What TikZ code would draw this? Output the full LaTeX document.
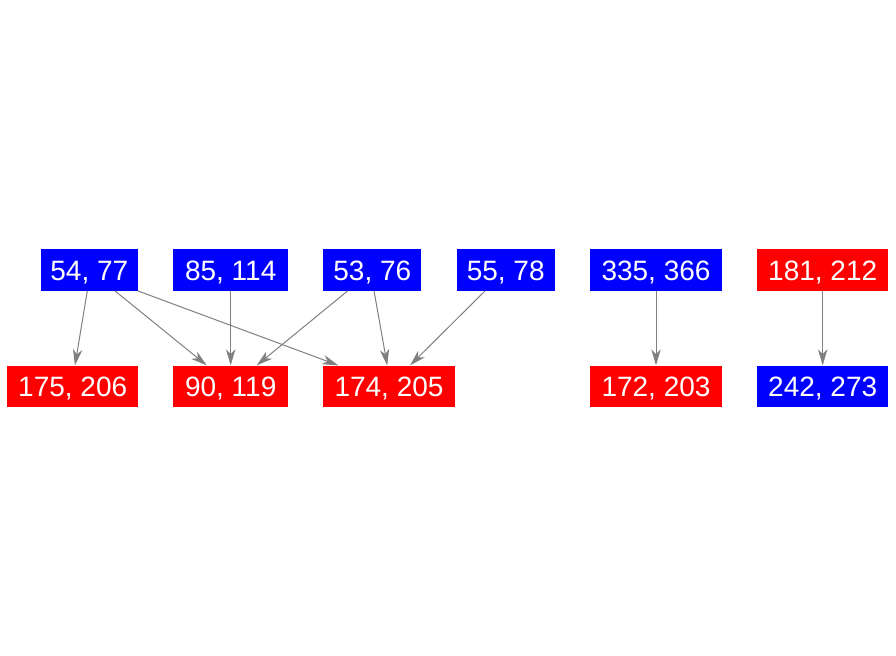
\documentclass[tikz,border=0pt]{standalone}
\usepackage{fontspec}
\setmainfont{Liberation Sans}
\usetikzlibrary{arrows.meta}
\definecolor{nblue}{RGB}{0,0,255}
\definecolor{nred}{RGB}{255,0,0}
\definecolor{egray}{RGB}{128,128,128}
\tikzset{
  nbox/.style={draw=none, text=white, font=\fontsize{21}{21}\selectfont,
    inner xsep=0pt, inner ysep=0pt, text height=15pt, text depth=0pt,
    minimum height=31pt, minimum width=#1},
  bluebox/.style={nbox=#1, fill=nblue},
  redbox/.style={nbox=#1, fill=nred},
  edge/.style={draw=egray, line width=0.75pt,
    -{Stealth[length=12pt, width=7pt, inset=3.5pt]}}
}
\begin{document}
\begin{tikzpicture}[x=0.75pt, y=-0.75pt]
\useasboundingbox (0,0) rectangle (896,656);
% top row
\node[bluebox=73pt]   (a) at (89.3,270)  {54, 77};
\node[bluebox=86pt]   (b) at (230.7,270) {85, 114};
\node[bluebox=73.5pt] (c) at (372.3,270) {53, 76};
\node[bluebox=73.5pt] (d) at (505.7,270) {55, 78};
\node[bluebox=99pt]   (e) at (656,270)   {335, 366};
\node[redbox=98pt]    (f) at (822.7,270) {181, 212};
% bottom row
\node[redbox=98pt]    (g) at (72.7,386.3)  {175, 206};
\node[redbox=86pt]    (h) at (230.7,386.3) {90, 119};
\node[redbox=98.5pt]  (i) at (389,386.3)   {174, 205};
\node[redbox=99pt]    (j) at (656,386.3)   {172, 203};
\node[bluebox=98pt]   (k) at (822.7,386.3) {242, 273};
% edges
\draw[edge] ([xshift=-1.5pt]a.south) -- ([xshift=1.7pt]g.north);
\draw[edge] ([xshift=19.3pt]a.south) -- ([xshift=-18pt]h.north);
\draw[edge] ([xshift=36.5pt]a.south) -- ([xshift=-38pt]i.north);
\draw[edge] (b.south) -- (h.north);
\draw[edge] ([xshift=-18.5pt]c.south) -- ([xshift=19.5pt]h.north);
\draw[edge] ([xshift=1.3pt]c.south) -- ([xshift=-1.3pt]i.north);
\draw[edge] ([xshift=-15.5pt]d.south) -- ([xshift=15.8pt]i.north);
\draw[edge] (e.south) -- (j.north);
\draw[edge] (f.south) -- (k.north);
\end{tikzpicture}
\end{document}
